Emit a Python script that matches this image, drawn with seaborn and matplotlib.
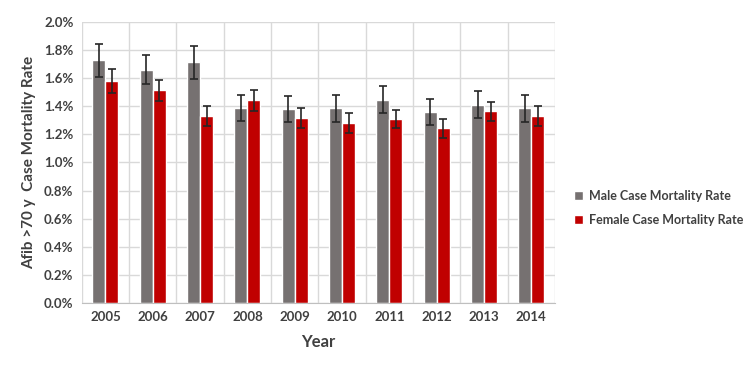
import seaborn as sns
import matplotlib.pyplot as plt
import pandas as pd
import numpy as np
from matplotlib.ticker import PercentFormatter
from matplotlib.patches import Patch

years = ['2005', '2006', '2007', '2008', '2009', '2010', '2011', '2012', '2013', '2014']
male = [1.727, 1.661, 1.713, 1.390, 1.381, 1.386, 1.447, 1.359, 1.411, 1.386]
male_err = [0.12, 0.105, 0.115, 0.092, 0.094, 0.098, 0.098, 0.092, 0.097, 0.097]
female = [1.580, 1.514, 1.331, 1.443, 1.314, 1.279, 1.310, 1.243, 1.364, 1.329]
female_err = [0.085, 0.075, 0.073, 0.076, 0.071, 0.07, 0.063, 0.066, 0.07, 0.071]
series = ['Male Case Mortality Rate', 'Female Case Mortality Rate']
colors = ['#767171', '#C00000']

df = pd.DataFrame({'Year': years * 2,
                   'Rate': male + female,
                   'Err': male_err + female_err,
                   'Series': [series[0]] * len(years) + [series[1]] * len(years)})

sns.set_style('white')
plt.rcParams['font.family'] = ['Lato', 'DejaVu Sans']

fig = plt.figure(figsize=(7.5, 3.68), dpi=100)
ax = fig.add_axes([0.109, 0.177, 0.631, 0.763])
sns.barplot(data=df, x='Year', y='Rate', hue='Series', palette=colors,
            width=0.55, errorbar=None, legend=False, ax=ax, saturation=1)

# error bars at bar centres
bars = [p for p in ax.patches][:len(df)]
xs = [b.get_x() + b.get_width() / 2 for b in bars]
hs = [b.get_height() for b in bars]
ax.errorbar(xs, hs, yerr=df['Err'], fmt='none', ecolor='#262626',
            elinewidth=1.2, capsize=3, capthick=1.2, zorder=5)

ax.set_ylim(0, 2.0)
ax.set_yticks(np.arange(0, 2.01, 0.2))
ax.yaxis.set_major_formatter(PercentFormatter(decimals=1))
ax.set_xlim(-0.5, len(years) - 0.5)
ax.set_xticks(np.arange(-0.5, len(years), 1.0), minor=True)
ax.grid(True, axis='y', color='#D9D9D9', linewidth=1)
ax.grid(True, axis='x', which='minor', color='#D9D9D9', linewidth=1)
ax.grid(False, axis='x', which='major')
ax.set_axisbelow(True)
for s in ['top', 'right', 'left']:
    ax.spines[s].set_visible(False)
ax.spines['bottom'].set_color('#BFBFBF')
ax.tick_params(axis='both', which='both', length=0, labelsize=9.5,
               labelcolor='#404040', pad=6)
for lab in ax.get_xticklabels() + ax.get_yticklabels():
    lab.set_fontweight('bold')

ax.set_xlabel('Year', fontsize=12, fontweight='bold', color='#404040', labelpad=8)
ax.set_ylabel('Afib >70 y  Case Mortality Rate', fontsize=11, fontweight='bold',
              color='#404040', labelpad=6)

handles = [Patch(facecolor=c, label=l) for c, l in zip(colors, series)]
leg = fig.legend(handles=handles, loc='center left', bbox_to_anchor=(0.765, 0.435),
                 frameon=False, handlelength=0.7, handleheight=0.7, borderaxespad=0,
                 borderpad=0, handletextpad=0.5, labelspacing=1.0,
                 prop={'size': 9, 'weight': 'bold'})
for t in leg.get_texts():
    t.set_color('#404040')

fig.savefig('out.png', dpi=100)
